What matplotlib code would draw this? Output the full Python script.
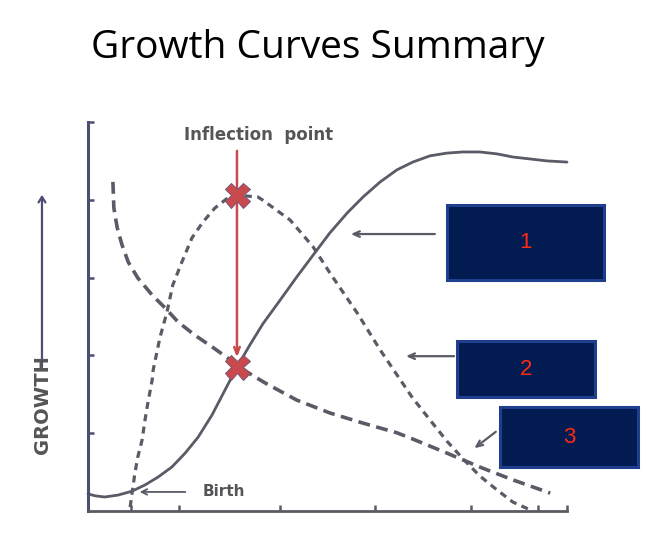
import matplotlib
matplotlib.use('Agg')
import matplotlib.pyplot as plt
from matplotlib.patches import Rectangle, FancyArrowPatch

# curve 1: solid growth curve (time, size)
size_x = [0, 1.5, 3.5, 6.3, 9.2, 11.9, 14.6, 17.5, 20.3, 23.0, 25.9, 28.6,
          31.1, 33.8, 36.5, 40.1, 43.6, 47.8, 50.5, 54.1, 57.4, 61.0, 64.5,
          67.8, 71.4, 74.9, 78.3, 81.8, 85.4, 88.7, 92.3, 95.8, 100]
size_y = [4.4, 3.9, 3.6, 4.1, 5.1, 6.7, 8.7, 11.3, 14.9, 19.0, 24.7, 31.1,
          37.0, 42.7, 48.1, 54.2, 60.2, 67.1, 71.5, 76.6, 80.7, 84.6, 87.7,
          89.7, 91.3, 92.0, 92.3, 92.3, 91.8, 91.0, 90.5, 90.0, 89.7]

# curve 2: short dashed growth rate
rate_x = [8.8, 9.2, 9.8, 10.4, 11.3, 11.9, 12.5, 13.4, 13.6, 15.0, 16.5,
          17.7, 19.6, 21.7, 24.0, 26.5, 29.2, 31.1, 35.5, 36.5, 42.2, 47.0,
          50.5, 56.2, 61.0, 64.5, 67.8, 71.4, 74.9, 78.3, 81.8, 85.4, 88.7,
          92.3]
rate_y = [1.0, 4.6, 9.8, 13.9, 18.3, 23.4, 27.8, 33.7, 36.2, 44.5, 51.2,
          58.1, 64.0, 70.2, 74.3, 77.9, 80.5, 81.2, 80.7, 79.9, 74.8, 67.9,
          61.2, 50.9, 41.4, 35.0, 29.0, 23.4, 18.0, 13.4, 9.0, 5.4, 2.3,
          0.3]

# curve 3: long dashed relative growth rate
rel_x = [5.2, 5.4, 6.1, 7.1, 8.4, 10.4, 13.4, 16.1, 18.8, 22.3, 25.9, 29.2,
         31.1, 37.0, 43.6, 50.5, 57.4, 64.5, 67.8, 74.9, 81.8, 88.7, 96.5]
rel_y = [84.6, 77.9, 72.8, 68.4, 64.0, 59.9, 55.5, 52.2, 48.6, 45.2, 42.2,
         39.3, 37.3, 32.9, 28.5, 25.2, 22.6, 20.1, 18.5, 14.9, 11.3, 8.0,
         4.6]

inflect_x = [31.1, 31.1]
inflect_y = [81.2, 37.0]

xticks = [9, 19, 40, 60, 80, 94, 100]
yticks = [20, 40, 60, 80, 100]

labels = ['1', '2', '3']
box_x = [74.9, 77.0, 86.0]
box_y = [59.4, 29.3, 11.3]
box_w = [32.8, 28.8, 28.8]
box_h = [19.3, 14.4, 15.4]
ptr_from = [(73.0, 71.2), (77.0, 39.8), (85.6, 20.8)]
ptr_to = [(54.3, 71.2), (65.8, 39.8), (80.2, 15.7)]

fig = plt.figure(figsize=(6.6, 5.5), dpi=100)
fig.text(0.482, 0.913, 'Growth Curves Summary', ha='center', va='center',
         fontsize=28, family='Open Sans', color='black')

ax = fig.add_axes([88/660, 39/550, 479/660, 389/550])
ax.set_xlim(0, 100)
ax.set_ylim(0, 100)
for s in ['top', 'right']:
    ax.spines[s].set_visible(False)
ax.spines['left'].set_color('#4b4f72')
ax.spines['left'].set_linewidth(2.2)
ax.spines['bottom'].set_color('#5a5a62')
ax.spines['bottom'].set_linewidth(2.0)
ax.set_xticks(xticks)
ax.set_yticks(yticks)
ax.set_xticklabels([])
ax.set_yticklabels([])
ax.tick_params(axis='x', direction='in', length=4, width=1.8, colors='#5a5a62')
ax.tick_params(axis='y', direction='in', length=4, width=1.8, colors='#4b4f72')

gray = '#595b66'
ax.plot(size_x, size_y, color=gray, lw=2.0, solid_capstyle='round',
        solid_joinstyle='round', clip_on=False)
ax.plot(rate_x, rate_y, color=gray, lw=2.3, dashes=(2.2, 1.7), clip_on=False)
ax.plot(rel_x, rel_y, color=gray, lw=2.6, dashes=(3.3, 1.8), clip_on=False)

red = '#c94a4c'
ax.annotate('', xy=(31.1, 38.8), xytext=(31.1, 93.3),
            arrowprops=dict(arrowstyle='->,head_length=0.5,head_width=0.2',
                            color=red, lw=1.8), annotation_clip=False)
ax.plot(inflect_x, inflect_y, ls='none', marker='X', markersize=18,
        color=red, mec='#7a5378', mew=0.7, clip_on=False, zorder=5)

ax.text(35.7, 96.7, 'Inflection  point', ha='center', va='center',
        fontsize=12, fontweight='bold', color='#555558')
ax.annotate('', xy=(10.2, 4.9), xytext=(20.9, 4.9),
            arrowprops=dict(arrowstyle='->,head_length=0.4,head_width=0.2',
                            color=gray, lw=1.3))
ax.text(24.0, 4.9, 'Birth', ha='left', va='center', fontsize=11,
        fontweight='bold', color='#555558')

for i in range(len(labels)):
    ax.add_patch(Rectangle((box_x[i], box_y[i]), box_w[i], box_h[i],
                           facecolor='#021c52', edgecolor='#1f3f8e', lw=2.2,
                           clip_on=False, zorder=6))
    ax.text(box_x[i] + box_w[i] / 2, box_y[i] + box_h[i] / 2, labels[i],
            ha='center', va='center', fontsize=16, color='#ff2a14',
            family='Liberation Sans', zorder=7)
    ax.annotate('', xy=ptr_to[i], xytext=ptr_from[i],
                arrowprops=dict(arrowstyle='->,head_length=0.45,head_width=0.2',
                                color=gray, lw=1.6), annotation_clip=False)

fig.text(0.065, 0.264, 'GROWTH', rotation=90, ha='center', va='center',
         fontsize=14, fontweight='bold', color='#555558')
fig.patches.append(FancyArrowPatch(
    (0.0636, 0.3273), (0.0636, 0.6509), transform=fig.transFigure,
    arrowstyle='->,head_length=4,head_width=2.5', color='#4b4f72', lw=1.6))

fig.savefig('out.png', dpi=100)
